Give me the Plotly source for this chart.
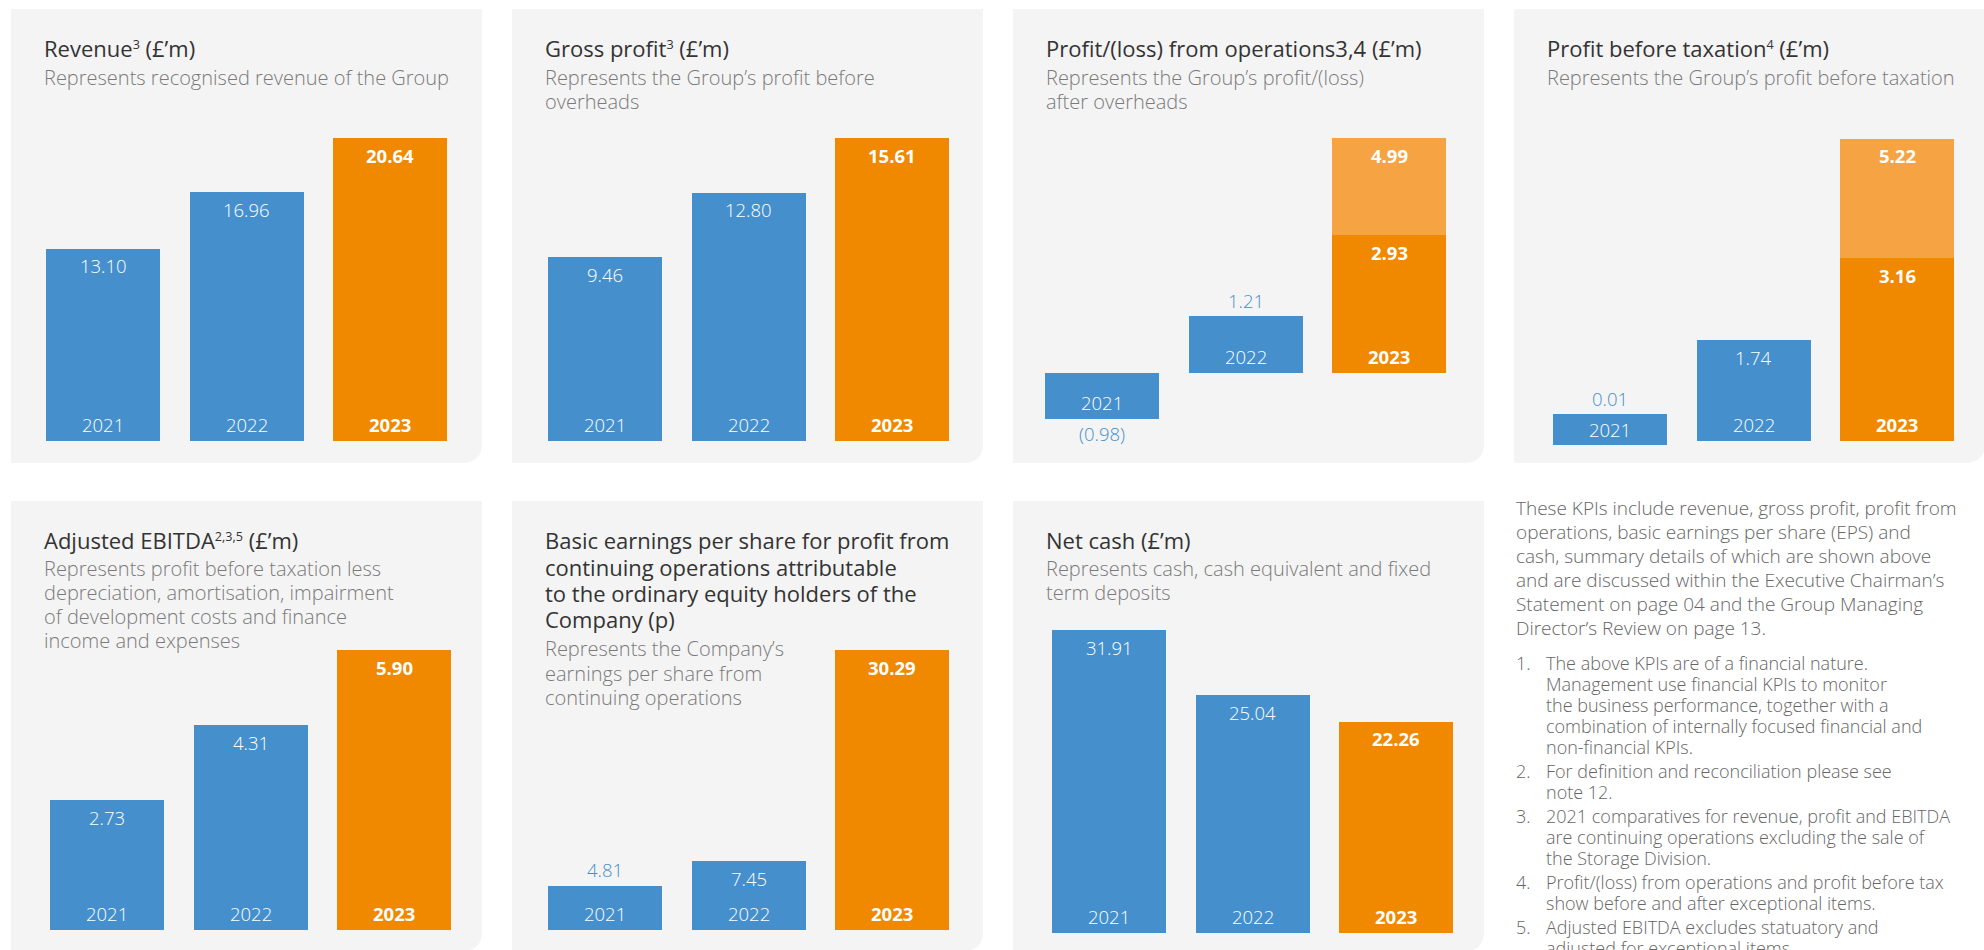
import plotly.graph_objects as go

# ---------------------------------------------------------------- data
years = ["2021", "2022", "2023"]
revenue = [13.10, 16.96, 20.64]
gross_profit = [9.46, 12.80, 15.61]
ops_profit = [-0.98, 1.21, 2.93]
ops_profit_pre_exceptional = [None, None, 4.99]
pbt = [0.01, 1.74, 3.16]
pbt_pre_exceptional = [None, None, 5.22]
adj_ebitda = [2.73, 4.31, 5.90]
eps = [4.81, 7.45, 30.29]
net_cash = [31.91, 25.04, 22.26]

SUP = "<span style='font-size:18px'><sup>{}</sup></span>"

titles = {
    "revenue": ["Revenue" + SUP.format("3") + " (£’m)"],
    "gross": ["Gross profit" + SUP.format("3") + " (£’m)"],
    "ops": ["Profit/(loss) from operations3,4 (£’m)"],
    "pbt": ["Profit before taxation" + SUP.format("4") + " (£’m)"],
    "ebitda": ["Adjusted EBITDA" + SUP.format("2,3,5") + " (£’m)"],
    "eps": ["Basic earnings per share for profit from",
            "continuing operations attributable",
            "to the ordinary equity holders of the",
            "Company (p)"],
    "cash": ["Net cash (£’m)"],
}
subtitles = {
    "revenue": ["Represents recognised revenue of the Group"],
    "gross": ["Represents the Group’s profit before", "overheads"],
    "ops": ["Represents the Group’s profit/(loss)", "after overheads"],
    "pbt": ["Represents the Group’s profit before taxation"],
    "ebitda": ["Represents profit before taxation less",
               "depreciation, amortisation, impairment",
               "of development costs and finance",
               "income and expenses"],
    "eps": ["Represents the Company’s", "earnings per share from",
            "continuing operations"],
    "cash": ["Represents cash, cash equivalent and fixed", "term deposits"],
}

intro_lines = [
    "These KPIs include revenue, gross profit, profit from",
    "operations, basic earnings per share (EPS) and",
    "cash, summary details of which are shown above",
    "and are discussed within the Executive Chairman’s",
    "Statement on page 04 and the Group Managing",
    "Director’s Review on page 13.",
]
notes = [
    ["The above KPIs are of a financial nature.",
     "Management use financial KPIs to monitor",
     "the business performance, together with a",
     "combination of internally focused financial and",
     "non-financial KPIs."],
    ["For definition and reconciliation please see", "note 12."],
    ["2021 comparatives for revenue, profit and EBITDA",
     "are continuing operations excluding the sale of",
     "the Storage Division."],
    ["Profit/(loss) from operations and profit before tax",
     "show before and after exceptional items."],
    ["Adjusted EBITDA excludes statuatory and",
     "adjusted for exceptional items."],
]

# ---------------------------------------------------------------- style
W, H = 1984, 950
FONT = "Open Sans"
BLUE = "#4590CC"
ORANGE = "#F08800"
ORANGE_LIGHT = "#F5A343"
PANEL = "#F4F4F4"
TITLE_C = "#333333"
SUB_C = "#7A7A7A"
BODY_C = "#666666"

TITLE_SIZE = 22
SUB_SIZE = 20
BAR_LABEL_SIZE = 18.5
BODY_SIZE = 19
NOTE_SIZE = 18

PANEL_W = 471
BAR_PITCH = 143.5          # px between bar centres
BAR_W = 114                # px bar width
INSIDE_MIN_PX = 65         # shorter bars get their value printed above
CHIP_MIN_PX = 30           # even shorter bars get a year chip

# panel placement: left, top, bottom, first bar centre, baseline, top of tallest bar, pad below baseline
panels = [
    dict(key="revenue", left=11, top=9, bottom=463, c0=103, base=441, peak=138, pad=15,
         main=revenue, extra=None, title_y=[48], sub_y=[77]),
    dict(key="gross", left=512, top=9, bottom=463, c0=605, base=441, peak=138, pad=15,
         main=gross_profit, extra=None, title_y=[48], sub_y=[77, 101]),
    dict(key="ops", left=1013, top=9, bottom=463, c0=1102, base=373, peak=138, pad=60,
         main=ops_profit, extra=ops_profit_pre_exceptional, title_y=[48], sub_y=[77, 101]),
    dict(key="pbt", left=1514, top=9, bottom=463, c0=1610, base=441, peak=139, pad=15,
         main=pbt, extra=pbt_pre_exceptional, title_y=[48], sub_y=[77]),
    dict(key="ebitda", left=11, top=501, bottom=951, c0=107, base=930, peak=650, pad=15,
         main=adj_ebitda, extra=None, title_y=[540], sub_y=[568, 592, 616, 640]),
    dict(key="eps", left=512, top=501, bottom=951, c0=605, base=930, peak=650, pad=15,
         main=eps, extra=None, title_y=[540, 567, 593, 619], sub_y=[648, 673, 697]),
    dict(key="cash", left=1013, top=501, bottom=951, c0=1109, base=933, peak=630, pad=15,
         main=net_cash, extra=None, title_y=[540], sub_y=[568, 592]),
]


def fx(p):
    return p / W


def fy(p):
    return 1 - p / H


def fmt(v):
    return f"({abs(v):.2f})" if v < 0 else f"{v:.2f}"


fig = go.Figure()
shapes, annotations = [], []
layout_axes = {}
bar_w_units = BAR_W / BAR_PITCH

for i, p in enumerate(panels, start=1):
    xa = "x" if i == 1 else f"x{i}"
    ya = "y" if i == 1 else f"y{i}"
    xk = "xaxis" if i == 1 else f"xaxis{i}"
    yk = "yaxis" if i == 1 else f"yaxis{i}"

    # panel card with rounded bottom-right corner
    l, t, b = p["left"], p["top"], p["bottom"]
    r = l + PANEL_W
    rad = 20
    path = (f"M {fx(l)},{fy(t)} L {fx(r)},{fy(t)} L {fx(r)},{fy(b - rad)} "
            f"Q {fx(r)},{fy(b)} {fx(r - rad)},{fy(b)} L {fx(l)},{fy(b)} Z")
    shapes.append(dict(type="path", path=path, xref="paper", yref="paper",
                       fillcolor=PANEL, line=dict(width=0), layer="below"))

    # scale: tallest value reaches the peak pixel
    all_vals = [v for v in p["main"] if v is not None]
    if p["extra"]:
        all_vals += [v for v in p["extra"] if v is not None]
    vmax = max(all_vals)
    k = (p["base"] - p["peak"]) / vmax

    c0 = p["c0"]
    layout_axes[xk] = dict(domain=[fx(c0 - BAR_PITCH / 2), fx(c0 + 2.5 * BAR_PITCH)],
                           type="category", categoryorder="array", categoryarray=years,
                           range=[-0.5, 2.5], visible=False, anchor=ya, fixedrange=True)
    layout_axes[yk] = dict(domain=[fy(p["base"] + p["pad"]), fy(p["peak"])],
                           range=[-p["pad"] / k, vmax], visible=False,
                           anchor=xa, fixedrange=True)

    colors = [BLUE, BLUE, ORANGE]
    if p["extra"]:
        fig.add_trace(go.Bar(x=years, y=p["extra"], width=bar_w_units,
                             marker=dict(color=ORANGE_LIGHT, line=dict(width=0)),
                             xaxis=xa, yaxis=ya, hoverinfo="skip", showlegend=False))
    fig.add_trace(go.Bar(x=years, y=p["main"], width=bar_w_units,
                         marker=dict(color=colors, line=dict(width=0)),
                         xaxis=xa, yaxis=ya, hoverinfo="skip", showlegend=False))

    # titles and descriptions
    for line, yy in zip(titles[p["key"]], p["title_y"]):
        annotations.append(dict(text=line, x=fx(l + 31), y=fy(yy), xref="paper", yref="paper",
                                xanchor="left", yanchor="middle", showarrow=False,
                                font=dict(family=FONT, size=TITLE_SIZE, color=TITLE_C)))
    for line, yy in zip(subtitles[p["key"]], p["sub_y"]):
        annotations.append(dict(text=line, x=fx(l + 31), y=fy(yy), xref="paper", yref="paper",
                                xanchor="left", yanchor="middle", showarrow=False,
                                font=dict(family=FONT, size=SUB_SIZE, color=SUB_C, weight=300)))

    # bar labels (category axes are addressed by category index)
    for j, (yr, v) in enumerate(zip(years, p["main"])):
        current = j == 2
        wt = 700 if current else 300
        lab = dict(xref=xa, yref=ya, x=j, showarrow=False, yanchor="middle")
        h_px = abs(v) * k
        if h_px < CHIP_MIN_PX and v >= 0:
            annotations.append(dict(lab, text=yr, y=0, yshift=11.5, width=BAR_W, height=31,
                                    bgcolor=colors[j], borderpad=0, borderwidth=0,
                                    font=dict(family=FONT, size=BAR_LABEL_SIZE, color="white",
                                              weight=wt)))
            annotations.append(dict(lab, text=fmt(v), y=0, yshift=27 + 16,
                                    font=dict(family=FONT, size=BAR_LABEL_SIZE, color=BLUE,
                                              weight=300)))
            continue
        # year at the foot of the bar
        annotations.append(dict(lab, text=yr, y=min(v, 0), yshift=17,
                                font=dict(family=FONT, size=BAR_LABEL_SIZE, color="white",
                                          weight=wt)))
        if v < 0:
            annotations.append(dict(lab, text=fmt(v), y=v, yshift=-14,
                                    font=dict(family=FONT, size=BAR_LABEL_SIZE, color=BLUE,
                                              weight=300)))
        elif h_px < INSIDE_MIN_PX:
            annotations.append(dict(lab, text=fmt(v), y=v, yshift=16,
                                    font=dict(family=FONT, size=BAR_LABEL_SIZE, color=BLUE,
                                              weight=300)))
        else:
            annotations.append(dict(lab, text=fmt(v), y=v, yshift=-17,
                                    font=dict(family=FONT, size=BAR_LABEL_SIZE, color="white",
                                              weight=wt)))
    if p["extra"]:
        for j, v in enumerate(p["extra"]):
            if v is None:
                continue
            annotations.append(dict(xref=xa, yref=ya, x=j, y=v, yshift=-17, text=fmt(v),
                                    showarrow=False, yanchor="middle",
                                    font=dict(family=FONT, size=BAR_LABEL_SIZE, color="white",
                                              weight=700)))

# explanatory column
for n, line in enumerate(intro_lines):
    annotations.append(dict(text=line, x=fx(1514), y=fy(508 + 24 * n), xref="paper", yref="paper",
                            xanchor="left", yanchor="middle", showarrow=False,
                            font=dict(family=FONT, size=BODY_SIZE, color=BODY_C, weight=300)))
yy = 663
for n, item in enumerate(notes, start=1):
    annotations.append(dict(text=f"{n}.", x=fx(1514), y=fy(yy), xref="paper", yref="paper",
                            xanchor="left", yanchor="middle", showarrow=False,
                            font=dict(family=FONT, size=NOTE_SIZE, color=BODY_C, weight=300)))
    for line in item:
        annotations.append(dict(text=line, x=fx(1544), y=fy(yy), xref="paper", yref="paper",
                                xanchor="left", yanchor="middle", showarrow=False,
                                font=dict(family=FONT, size=NOTE_SIZE, color=BODY_C, weight=300)))
        yy += 21
    yy += 3

fig.update_layout(
    width=W, height=H,
    margin=dict(l=0, r=0, t=0, b=0),
    paper_bgcolor="white", plot_bgcolor="rgba(0,0,0,0)",
    barmode="overlay", bargap=0,
    shapes=shapes, annotations=annotations,
    showlegend=False,
    **layout_axes,
)

fig.write_html("out.html", config=dict(displayModeBar=False, staticPlot=True))
